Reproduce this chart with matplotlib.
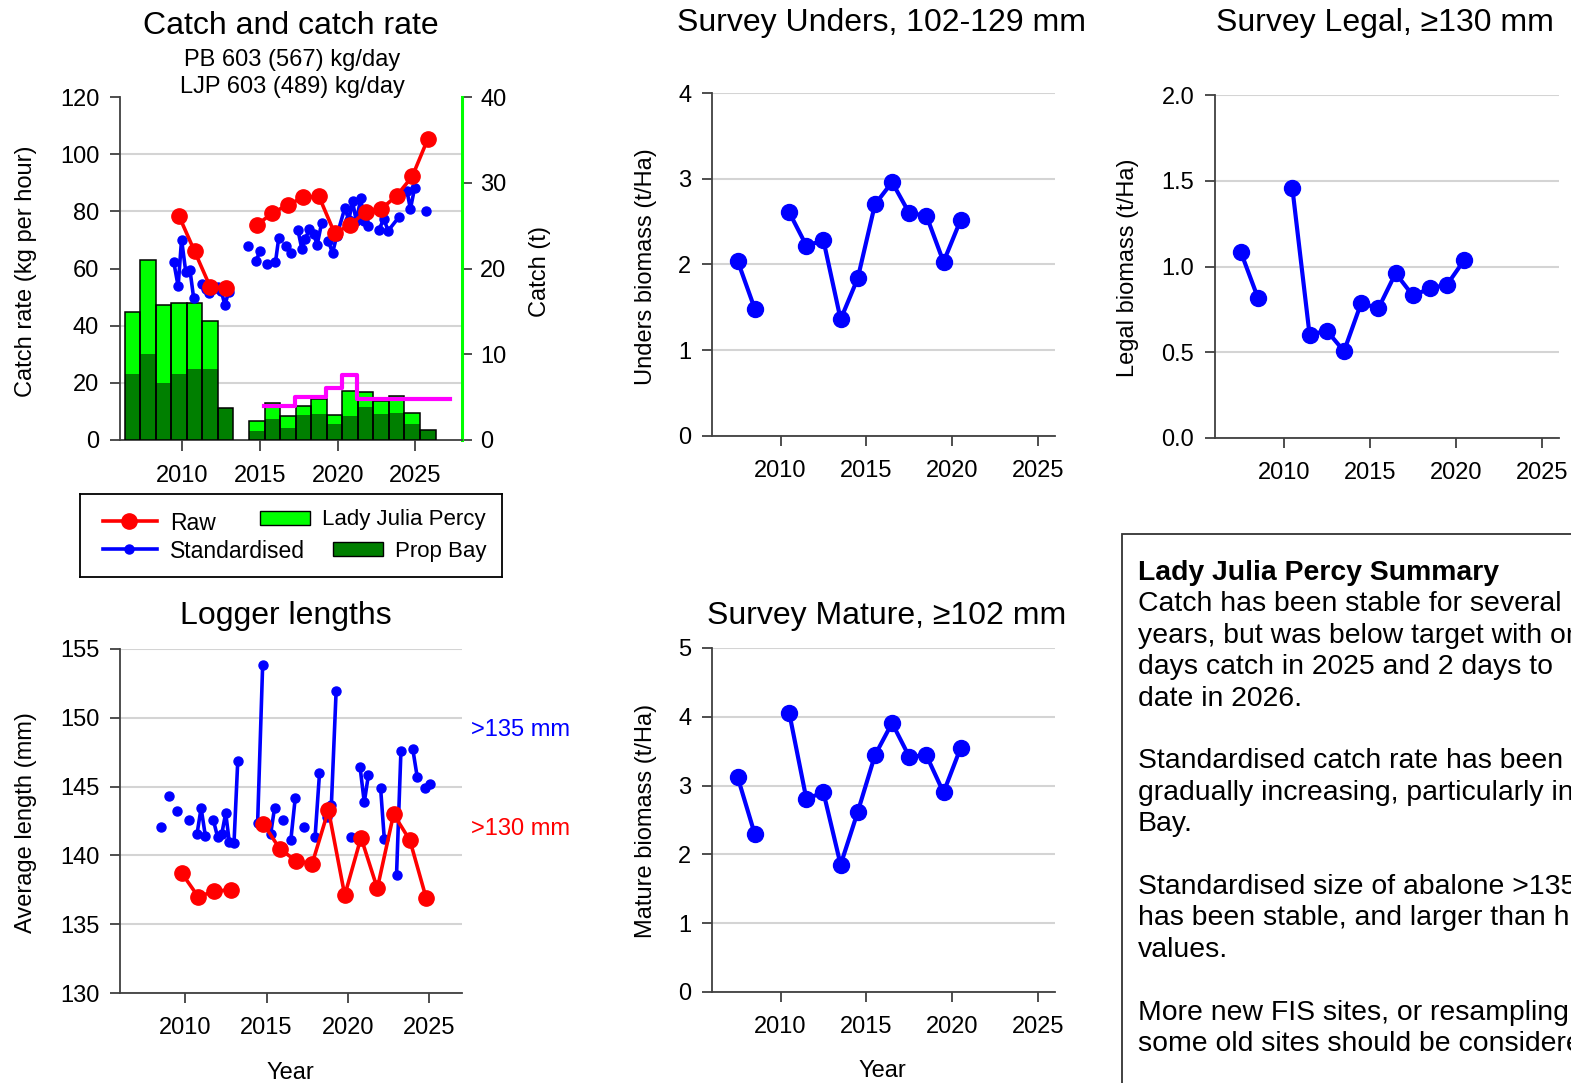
import numpy as np
import matplotlib
matplotlib.use("Agg")
import matplotlib.pyplot as plt
from matplotlib.patches import Rectangle
from matplotlib.lines import Line2D

plt.rcParams['font.family'] = ['Liberation Sans', 'DejaVu Sans']

# ---------------- DATA ----------------
# Catch (t) by fishing year, stacked: Prop Bay (bottom) + Lady Julia Percy (top)
catch_years = [2007, 2008, 2009, 2010, 2011, 2012, 2013, np.nan,
               2015, 2016, 2017, 2018, 2019, 2020, 2021, 2022, 2023, 2024, 2025, 2026]
catch_pb = [7.7, 10.0, 6.65, 7.7, 8.3, 8.3, 3.7, np.nan,
            1.1, 2.4, 1.35, 2.9, 3.05, 1.85, 2.85, 3.8, 3.05, 3.15, 1.85, 1.17]
catch_ljp = [7.2, 11.0, 9.05, 8.25, 7.65, 5.55, 0.0, np.nan,
             1.15, 1.9, 1.4, 1.05, 1.75, 1.1, 2.85, 1.75, 1.45, 2.0, 1.25, 0.0]

# TACC / target step line (t)
tacc_years = [2015, 2016, 2017, 2018, 2019, 2020, 2021, 2022, 2023, 2024, 2025, 2026]
tacc_vals = [3.93, 3.93, 4.98, 4.98, 6.07, 7.59, 4.79, 4.79, 4.79, 4.79, 4.79, 4.79]

# Raw catch rate (kg/hour)
raw_years = [2010, 2011, 2012, 2013, np.nan, 2015, 2016, 2017, 2018, 2019, 2020,
             2021, 2022, 2023, 2024, 2025, 2026]
raw_rate = [78.3, 66.0, 53.6, 53.1, np.nan, 75.2, 79.4, 82.3, 84.9, 85.2, 72.4,
            75.2, 79.9, 80.8, 85.5, 92.2, 105.3]

# Standardised catch rate (kg/hour), time in decimal years
std_time = [2009.46, 2009.74, 2009.96, 2010.23, 2010.50, 2010.74, np.nan,
            2011.25, 2011.50, 2011.75, 2012.00, 2012.30, 2012.52, 2012.75, 2012.98, np.nan,
            2014.21, np.nan,
            2014.76, 2015.00, np.nan,
            2015.46, 2016.00, 2016.21, np.nan,
            2016.70, 2016.98, np.nan,
            2017.44, 2017.70, 2017.91, 2018.19, 2018.46, 2018.68, 2018.97, np.nan,
            2019.40, 2019.67, 2019.95, 2020.46, 2020.72, 2020.96, 2021.20, 2021.49, 2021.70, 2021.97, np.nan,
            2022.66, 2022.97, 2023.25, 2023.93, np.nan,
            2024.46, 2024.68, 2024.95, np.nan,
            2025.67]
std_rate = [62.2, 53.8, 70.1, 58.9, 59.5, 49.6, np.nan,
            54.6, 53.0, 51.4, 52.8, 53.4, 52.0, 47.2, 51.7, np.nan,
            68.0, np.nan,
            62.7, 66.2, np.nan,
            61.6, 62.2, 70.6, np.nan,
            68.0, 65.4, np.nan,
            73.6, 66.8, 70.3, 73.8, 72.1, 68.2, 75.9, np.nan,
            69.7, 65.4, 71.5, 81.1, 77.0, 83.5, 76.5, 84.6, 76.7, 74.8, np.nan,
            73.6, 77.3, 73.2, 77.9, np.nan,
            87.2, 80.8, 88.1, np.nan,
            80.2]

# Logger lengths (mm)
log130_years = [2010, 2011, 2012, 2013, np.nan, 2015, 2016, 2017, 2018, 2019, 2020,
                2021, 2022, 2023, 2024, 2025]
log130_len = [138.7, 137.0, 137.4, 137.5, np.nan, 142.3, 140.5, 139.6, 139.4, 143.3, 137.1,
              141.3, 137.6, 143.0, 141.1, 136.9]

log135_time = [2008.49, np.nan, 2009.00, np.nan, 2009.51, np.nan, 2010.24, np.nan,
               2010.73, 2010.98, 2011.24, np.nan,
               2011.73, 2012.00, 2012.25, 2012.49, 2012.71, 2013.00, 2013.23, np.nan,
               2014.45, 2014.76, np.nan,
               2015.25, 2015.49, np.nan,
               2016.00, np.nan,
               2016.49, 2016.76, np.nan,
               2017.27, np.nan,
               2017.98, 2018.25, np.nan,
               2018.70, 2018.98, 2019.27, np.nan,
               2020.21, np.nan,
               2020.74, 2021.00, 2021.25, np.nan,
               2022.00, 2022.23, np.nan,
               2022.98, 2023.25, np.nan,
               2023.98, 2024.25, np.nan,
               2024.74, 2025.02]
log135_len = [142.1, np.nan, 144.3, np.nan, 143.2, np.nan, 142.55, np.nan,
              141.56, 143.44, 141.43, np.nan,
              142.57, 141.31, 141.56, 143.08, 141.0, 140.9, 146.84, np.nan,
              142.35, 153.86, np.nan,
              141.56, 143.44, np.nan,
              142.57, np.nan,
              141.12, 144.17, np.nan,
              142.09, np.nan,
              141.36, 145.96, np.nan,
              142.77, 143.69, 151.92, np.nan,
              141.34, np.nan,
              146.42, 143.86, 145.82, np.nan,
              144.92, 141.17, np.nan,
              138.58, 147.59, np.nan,
              147.71, 145.7, np.nan,
              144.9, 145.17]

# Surveys (t/Ha)
survey_years = [2007, 2008, 2009, 2010, 2011, 2012, 2013, 2014, 2015, 2016, 2017, 2018, 2019, 2020]
unders = [2.04, 1.48, np.nan, 2.61, 2.22, 2.28, 1.36, 1.84, 2.70, 2.96, 2.60, 2.57, 2.03, 2.52]
legal = [1.085, 0.816, np.nan, 1.455, 0.601, 0.626, 0.506, 0.787, 0.756, 0.961, 0.831, 0.872, 0.895, 1.039]
mature = [3.12, 2.29, np.nan, 4.06, 2.81, 2.90, 1.85, 2.62, 3.44, 3.91, 3.42, 3.44, 2.90, 3.55]

year_ticks = [2010, 2015, 2020, 2025]

# summary text as visible in the reference (the box runs off the right edge)
summary_lines = [
    ("Lady Julia Percy Summary", 'bold'),
    ("Catch has been stable for several", 'normal'),
    ("years, but was below target with on", 'normal'),
    ("days catch in 2025 and 2 days to", 'normal'),
    ("date in 2026.", 'normal'),
    ("", 'normal'),
    ("Standardised catch rate has been", 'normal'),
    ("gradually increasing, particularly in", 'normal'),
    ("Bay.", 'normal'),
    ("", 'normal'),
    ("Standardised size of abalone >135", 'normal'),
    ("has been stable, and larger than hi", 'normal'),
    ("values.", 'normal'),
    ("", 'normal'),
    ("More new FIS sites, or resampling", 'normal'),
    ("some old sites should be considere", 'normal'),
]

# ---------------- STYLE ----------------
W, H = 1571, 1083
fig = plt.figure(figsize=(W / 100, H / 100), dpi=100)

SPINE = '#404040'
GRID = '#d4d4d4'
BLUE = '#0000ff'
RED = '#ff0000'
LGREEN = '#00ff00'
DGREEN = '#007f00'
TFS = 23
LFS = 17
TKFS = 17
BAR_OFF = -0.2
SURV_OFF = 0.5
YSHIFT = 3


def add_ax(l, t, r, b):
    return fig.add_axes([l / W, 1 - b / H, (r - l) / W, (b - t) / H])


def ftext(x, y, s, **kw):
    return fig.text(x / W, 1 - (y + YSHIFT) / H, s, **kw)


def style_ax(ax):
    for s in ['top', 'right']:
        ax.spines[s].set_visible(False)
    for s in ['left', 'bottom']:
        ax.spines[s].set_color(SPINE)
        ax.spines[s].set_linewidth(1.3)
    ax.tick_params(axis='both', direction='out', length=7, width=1.3, color=SPINE,
                   labelsize=TKFS, pad=8)
    ax.tick_params(axis='x', pad=10)
    ax.yaxis.grid(True, color=GRID, lw=1.5)
    ax.set_axisbelow(True)


# ---------------- CATCH & CATCH RATE ----------------
ax_c = add_ax(120, 97, 462, 440)   # catch (t) - bars
ax_r = ax_c.twinx()                 # catch rate - lines (drawn on top)
ax_c.set_xlim(2006, 2028)
ax_c.set_ylim(0, 40)
ax_r.set_ylim(0, 120)
rate_ticks = [0, 20, 40, 60, 80, 100, 120]

cy = np.array(catch_years, dtype=float) + BAR_OFF
pb = np.array(catch_pb, dtype=float)
lj = np.array(catch_ljp, dtype=float)
m = ~np.isnan(cy)
ax_c.bar(cy[m], pb[m] + lj[m], width=1.0, color=LGREEN, lw=0, zorder=2)
ax_c.bar(cy[m], pb[m], width=1.0, color=DGREEN, lw=0, zorder=3)
ax_c.bar(cy[m], pb[m] + lj[m], width=1.0, facecolor='none', edgecolor='black', lw=1.1, zorder=4)

ty = np.array(tacc_years, dtype=float) + 0.25
ax_c.step(np.append(ty, ty[-1] + 1), np.append(tacc_vals, tacc_vals[-1]), where='post',
          color='#ff00ff', lw=3, zorder=5)

# grid lines at catch-rate ticks
ax_c.set_yticks(np.array(rate_ticks[1:]) * 40 / 120, minor=True)
ax_c.yaxis.grid(True, which='minor', color=GRID, lw=1.5)
ax_c.yaxis.grid(False, which='major')
ax_c.set_axisbelow(True)
ax_c.tick_params(axis='y', which='minor', length=0)

ax_c.yaxis.tick_right()
ax_c.set_yticks([0, 10, 20, 30, 40])
ax_c.tick_params(axis='y', which='major', direction='out', length=7, width=1.3, color=SPINE,
                 labelsize=TKFS, pad=6)
ax_c.set_xticks(year_ticks)
ax_c.tick_params(axis='x', direction='out', length=8, width=1.3, color=SPINE, labelsize=TKFS, pad=10)
for s in ['top', 'left']:
    ax_c.spines[s].set_visible(False)
ax_c.spines['right'].set_color(LGREEN)
ax_c.spines['right'].set_linewidth(2.2)
ax_c.spines['bottom'].set_color(SPINE)
ax_c.spines['bottom'].set_linewidth(1.3)

ax_r.yaxis.tick_left()
ax_r.set_yticks(rate_ticks)
ax_r.tick_params(axis='y', direction='out', length=7, width=1.3, color=SPINE, labelsize=TKFS, pad=8)
for s in ['top', 'right', 'bottom']:
    ax_r.spines[s].set_visible(False)
ax_r.spines['left'].set_visible(True)
ax_r.spines['left'].set_color(SPINE)
ax_r.spines['left'].set_linewidth(1.3)

ax_r.plot(std_time, std_rate, color=BLUE, lw=2.6, marker='o', ms=6.5, zorder=5)
ax_r.plot(np.array(raw_years, dtype=float) + BAR_OFF, raw_rate, color=RED, lw=2.6,
          marker='o', ms=11, zorder=6)

ftext(291, 23, "Catch and catch rate", fontsize=TFS, ha='center', va='center')
ftext(292, 57, "PB 603 (567) kg/day", fontsize=17, ha='center', va='center')
ftext(292, 84, "LJP 603 (489) kg/day", fontsize=17, ha='center', va='center')
ftext(26, 268, "Catch rate (kg per hour)", fontsize=LFS, rotation=90, ha='center', va='center')
ftext(540, 268, "Catch (t)", fontsize=LFS, rotation=90, ha='center', va='center')

# ---------------- LEGEND (manual, pixel coords) ----------------
ax_l = add_ax(80, 494, 502, 577)
ax_l.set_xlim(80, 502)
ax_l.set_ylim(577, 494)
ax_l.set_xticks([])
ax_l.set_yticks([])
for s in ax_l.spines.values():
    s.set_color('black')
    s.set_linewidth(1.3)
ax_l.add_line(Line2D([103, 157], [521, 521], color=RED, lw=2.6))
ax_l.add_line(Line2D([129], [521], color=RED, marker='o', ms=11))
ax_l.text(170, 523, "Raw", fontsize=16.5, va='center', ha='left')
ax_l.add_line(Line2D([103, 157], [549, 549], color=BLUE, lw=2.6))
ax_l.add_line(Line2D([129], [549], color=BLUE, marker='o', ms=6.5))
ax_l.text(170, 551, "Standardised", fontsize=16.5, va='center', ha='left')
ax_l.add_patch(Rectangle((260, 511), 50, 14, facecolor=LGREEN, edgecolor='black', lw=1))
ax_l.text(322, 520, "Lady Julia Percy", fontsize=16, va='center', ha='left')
ax_l.add_patch(Rectangle((333, 542), 50, 14, facecolor=DGREEN, edgecolor='black', lw=1))
ax_l.text(395, 551, "Prop Bay", fontsize=16, va='center', ha='left')

# ---------------- LOGGER LENGTHS ----------------
ax_g = add_ax(120, 649, 462, 993)
style_ax(ax_g)
ax_g.set_xlim(2006, 2027)
ax_g.set_ylim(130, 155)
ax_g.set_yticks([130, 135, 140, 145, 150, 155])
ax_g.set_xticks(year_ticks)
ax_g.plot(log135_time, log135_len, color=BLUE, lw=2.6, marker='o', ms=6.5, zorder=4)
ax_g.plot(np.array(log130_years, dtype=float) + BAR_OFF, log130_len, color=RED, lw=2.6,
          marker='o', ms=11, zorder=5)
ftext(286, 613, "Logger lengths", fontsize=TFS, ha='center', va='center')
ftext(26, 820, "Average length (mm)", fontsize=LFS, rotation=90, ha='center', va='center')
ftext(290, 1070, "Year", fontsize=LFS, ha='center', va='center')
ftext(471, 727, ">135 mm", fontsize=LFS, color=BLUE, ha='left', va='center')
ftext(471, 826, ">130 mm", fontsize=LFS, color=RED, ha='left', va='center')


# ---------------- SURVEYS ----------------
def survey(box, vals, ylim, yticks, fmt, title, tpos, ylabel, ypos):
    ax = add_ax(*box)
    style_ax(ax)
    ax.set_xlim(2006, 2026)
    ax.set_ylim(*ylim)
    ax.set_yticks(yticks)
    ax.set_yticklabels([fmt.format(v) for v in yticks])
    ax.set_xticks(year_ticks)
    ax.plot(np.array(survey_years, dtype=float) + SURV_OFF, vals, color=BLUE, lw=3,
            marker='o', ms=11.5, zorder=4)
    ftext(tpos[0], tpos[1], title, fontsize=TFS, ha='center', va='center')
    ftext(ypos[0], ypos[1], ylabel, fontsize=LFS, rotation=90, ha='center', va='center')
    return ax


survey((712, 93, 1055, 436), unders, (0, 4), [0, 1, 2, 3, 4], "{:.0f}",
       "Survey Unders, 102-129 mm", (882, 20), "Unders biomass (t/Ha)", (646, 264))
survey((1215, 95, 1559, 438), legal, (0, 2), [0, 0.5, 1.0, 1.5, 2.0], "{:.1f}",
       "Survey Legal, \u2265130 mm", (1385, 20), "Legal biomass (t/Ha)", (1128, 265))
survey((712, 648, 1055, 992), mature, (0, 5), [0, 1, 2, 3, 4, 5], "{:.0f}",
       "Survey Mature, \u2265102 mm", (887, 613), "Mature biomass (t/Ha)", (646, 818))
ftext(882, 1068, "Year", fontsize=LFS, ha='center', va='center')

# ---------------- SUMMARY BOX ----------------
fig.patches.append(Rectangle((1122 / W, 1 - 1100 / H), 500 / W, (1100 - 534) / H,
                             transform=fig.transFigure, facecolor='none',
                             edgecolor='#333333', lw=1.3))
y0 = 570
for i, (line, wt) in enumerate(summary_lines):
    if line:
        ftext(1138, y0 + i * 31.4, line, fontsize=20.4, fontweight=wt, ha='left', va='center')

fig.savefig("out.png", dpi=100)
